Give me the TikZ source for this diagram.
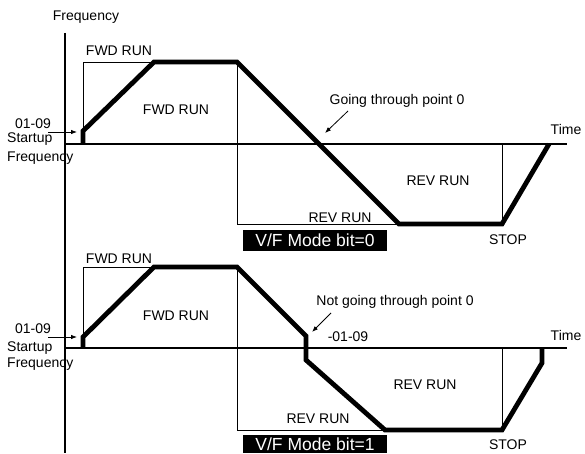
\documentclass[tikz,border=0pt]{standalone}
\usepackage{fontspec}
\setmainfont{Liberation Sans}
\usepackage{tikz}
\usetikzlibrary{calc, arrows.meta}
\usepackage{tkz-euclide}

\begin{document}
\begin{tikzpicture}[x=1pt, y=1pt, font=\fontsize{14}{16}\selectfont,
    runline/.style={line width=4.8pt, line join=miter},
    runframe/.style={line width=0.8pt},
    timeaxis/.style={line width=2.7pt},
    lbl/.style={anchor=base, inner sep=0pt},
    pointer/.style={-{Latex[length=6pt,width=4.5pt]}, line width=0.8pt},
    modebox/.style={fill=black, text=white, inner sep=0pt, minimum width=144pt,
      text height=12.5pt, text depth=0pt, font=\fontsize{17.5}{20}\selectfont}]
      \useasboundingbox (0,0) rectangle (585,453);

      % 1. 座標軸
      \tkzDefPoint(65,420){Y_0}
      \tkzDefPoint(65,0){Y_1}
      \tkzDefPoint(65,309){O_1}
      \tkzDefPoint(567,309){T_1}
      \tkzDefPoint(65,105){O_2}
      \tkzDefPoint(567,105){T_2}
      \draw[line width=2.5pt] (Y_0) -- (Y_1);
      \draw[timeaxis] (O_1) -- (T_1);
      \draw[timeaxis] (O_2) -- (T_2);

      % 2. 上圖 (bit=0) 的點
      \tkzDefPoint(83,309){A_1}
      \tkzDefPoint(83,322){A_2}
      \tkzDefPoint(154,391){B_1}
      \tkzDefPoint(237,391){C_1}
      \tkzDefPoint(399,229){D_1}
      \tkzDefPoint(502,229){E_1}
      \tkzDefPoint(549,309){F_1}
      \tkzDefPoint(83,391){P_1}
      \tkzDefPoint(237,229){Q_1}
      \tkzDefPoint(502,309){R_1}

      % 3. 下圖 (bit=1) 的點
      \tkzDefPoint(83,105){G_1}
      \tkzDefPoint(83,116){G_2}
      \tkzDefPoint(154,186){H_1}
      \tkzDefPoint(237,186){I_1}
      \tkzDefPoint(306,117){J_1}
      \tkzDefPoint(306,93){J_2}
      \tkzDefPoint(385,23){K_1}
      \tkzDefPoint(502,23){L_1}
      \tkzDefPoint(542,90){M_1}
      \tkzDefPoint(542,105){M_2}
      \tkzDefPoint(83,186){P_2}
      \tkzDefPoint(237,23){Q_2}
      \tkzDefPoint(502,105){R_2}

      % 4. 細框 FWD RUN / REV RUN
      \draw[runframe] (A_1) -- (P_1) -- (C_1) -- (Q_1) -- (E_1) -- (R_1);
      \draw[runframe] (G_1) -- (P_2) -- (I_1) -- (Q_2) -- (L_1) -- (R_2);

      % 5. 頻率曲線
      \draw[runline] (A_1) -- (A_2) -- (B_1) -- (C_1) -- (D_1) -- (E_1) -- (F_1);
      \draw[runline] (G_1) -- (G_2) -- (H_1) -- (I_1) -- (J_1) -- (J_2)
        -- (K_1) -- (L_1) -- (M_1) -- (M_2);

      % 6. 文字
      \node[lbl] (freq_axis) at (86,432) {Frequency};
      \node[lbl] (fwd_a1) at (119,397) {FWD RUN};
      \node[lbl] (fwd_a2) at (176,338) {FWD RUN};
      \node[lbl] (start_a) at (33,324) {01-09};
      \node[lbl, anchor=base west] (startup_a) at (7,310) {Startup};
      \node[lbl, anchor=base west] (freq_a) at (7,291) {Frequency};
      \node[lbl] (going) at (397,348) {Going through point 0};
      \node[lbl] (time_a) at (566,318) {Time};
      \node[lbl] (rev_a1) at (438,268) {REV RUN};
      \node[lbl] (rev_a2) at (340,231) {REV RUN};
      \node[lbl] (stop_a) at (508,209) {STOP};
      \node[modebox, minimum height=21pt] (mode_0) at (315,212.5) {V/F Mode bit=0};

      \node[lbl] (fwd_b1) at (119,190) {FWD RUN};
      \node[lbl] (fwd_b2) at (176,133) {FWD RUN};
      \node[lbl] (start_b) at (33,120) {01-09};
      \node[lbl, anchor=base west] (startup_b) at (7,102) {Startup};
      \node[lbl, anchor=base west] (freq_b) at (7,86) {Frequency};
      \node[lbl] (notgoing) at (395,148) {Not going through point 0};
      \node[lbl] (neg_start) at (348,112) {-01-09};
      \node[lbl] (time_b) at (566,113) {Time};
      \node[lbl] (rev_b1) at (425,64) {REV RUN};
      \node[lbl] (rev_b2) at (318,30) {REV RUN};
      \node[lbl] (stop_b) at (508,4) {STOP};
      \node[modebox, minimum height=18pt] (mode_1) at (315,9) {V/F Mode bit=1};

      % 7. 箭頭
      \tkzDefPoint(48,321){S_1}
      \tkzDefPoint(77,321){S_2}
      \tkzDefPoint(48,116){S_3}
      \tkzDefPoint(77,116){S_4}
      \tkzDefPoint(348,342){U_1}
      \tkzDefPoint(325,320){U_2}
      \tkzDefPoint(331,140){V_1}
      \tkzDefPoint(312,121){V_2}
      \draw[pointer] (S_1) -- (S_2);
      \draw[pointer] (S_3) -- (S_4);
      \draw[pointer] (U_1) -- (U_2);
      \draw[pointer] (V_1) -- (V_2);
    \end{tikzpicture}
\end{document}
